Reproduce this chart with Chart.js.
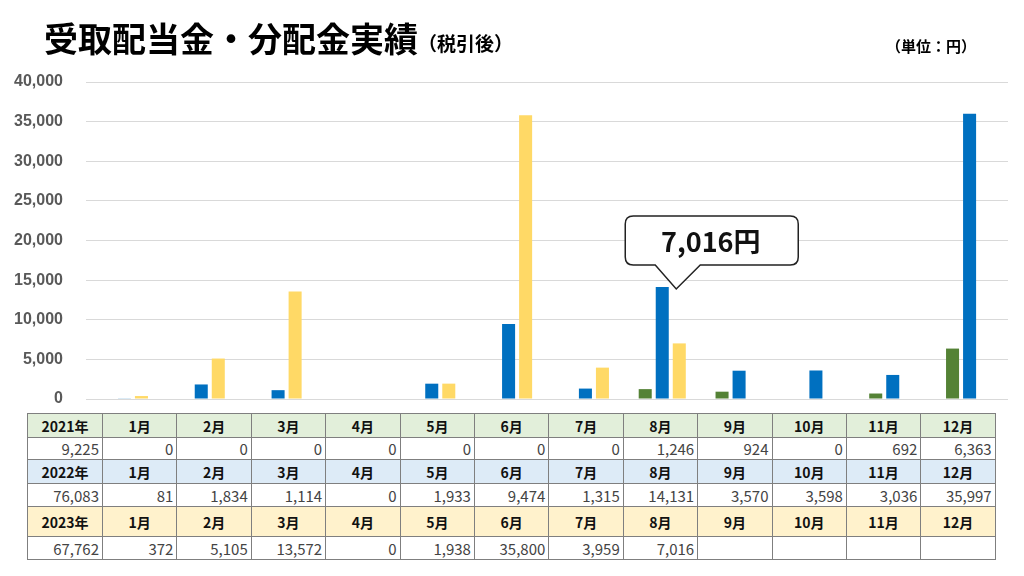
<!DOCTYPE html>
<html lang="ja">
<head>
<meta charset="utf-8">
<title>受取配当金・分配金実績</title>
<script src="https://cdn.jsdelivr.net/npm/chart.js@4.4.0/dist/chart.umd.min.js"></script>
<style>
    html, body { margin: 0; padding: 0; background: #fff; }
    #page { position: relative; width: 1024px; height: 576px; overflow: hidden; font-family: "Noto Sans CJK JP", sans-serif; }
    #chartBox { position: absolute; left: 0; top: 0; width: 1024px; height: 410px; }
    #title { position: absolute; left: 44px; top: 13px; font-size: 34px; font-weight: bold; color: #000; white-space: nowrap; }
    #title small { font-size: 19px; font-weight: bold; position: relative; top: -1px; }
    #unit { position: absolute; left: 886px; top: 35px; font-size: 15px; font-weight: bold; color: #000; white-space: nowrap; }
    #dataTable { position: absolute; left: 27px; top: 413px; border-collapse: collapse; table-layout: fixed; width: 968px; }
    #dataTable td { border: 1px solid #7f7f7f; padding: 0 3px; font-size: 15px; line-height: 1; overflow: hidden; white-space: nowrap; }
    #dataTable td.head { font-weight: bold; text-align: center; color: #111; font-size: 14px; }
    #dataTable td.num { text-align: right; color: #444; }
    tr.y2021 td { background: #e2efda; }
    tr.y2022 td { background: #ddebf7; }
    tr.y2023 td { background: #fff2cc; }
</style>
</head>
<body>
<div id="page">
    <div id="chartBox"><canvas id="dividendChart" width="1024" height="410"></canvas></div>
    <div id="title">受取配当金・分配金実績<small>（税引後）</small></div>
    <div id="unit">（単位：円）</div>
    <table id="dataTable">
        <colgroup id="cols"></colgroup>
        <tbody id="tableBody"></tbody>
    </table>
</div>
<script>
// Monthly dividends (after tax), yen
const months = ['1月', '2月', '3月', '4月', '5月', '6月', '7月', '8月', '9月', '10月', '11月', '12月'];
const years = ['2021年', '2022年', '2023年'];
const values2021 = [0, 0, 0, 0, 0, 0, 0, 1246, 924, 0, 692, 6363];
const values2022 = [81, 1834, 1114, 0, 1933, 9474, 1315, 14131, 3570, 3598, 3036, 35997];
const values2023 = [372, 5105, 13572, 0, 1938, 35800, 3959, 7016, null, null, null, null];
const yTicks = [0, 5000, 10000, 15000, 20000, 25000, 30000, 35000, 40000];
const calloutText = '7,016円';

const seriesColors = ['#548235', '#0070c0', '#ffd966'];
const allValues = [values2021, values2022, values2023];

// Callout bubble pointing at the Aug 2022 bar
const calloutPlugin = {
    id: 'callout',
    afterDatasetsDraw(chart) {
        const bar = chart.getDatasetMeta(1).data[7];
        if (!bar) return;
        const ctx = chart.ctx;
        const tipX = bar.x + 14;
        const tipY = bar.y + 2;
        const left = tipX - 51, right = tipX + 122;
        const top = tipY - 73, bottom = tipY - 24;
        const r = 8;
        ctx.save();
        ctx.beginPath();
        ctx.moveTo(left + r, top);
        ctx.lineTo(right - r, top);
        ctx.quadraticCurveTo(right, top, right, top + r);
        ctx.lineTo(right, bottom - r);
        ctx.quadraticCurveTo(right, bottom, right - r, bottom);
        ctx.lineTo(tipX + 24, bottom);
        ctx.lineTo(tipX, tipY);
        ctx.lineTo(tipX - 21, bottom);
        ctx.lineTo(left + r, bottom);
        ctx.quadraticCurveTo(left, bottom, left, bottom - r);
        ctx.lineTo(left, top + r);
        ctx.quadraticCurveTo(left, top, left + r, top);
        ctx.closePath();
        ctx.fillStyle = '#fff';
        ctx.fill();
        ctx.lineWidth = 1.5;
        ctx.strokeStyle = '#222';
        ctx.stroke();
        ctx.fillStyle = '#111';
        ctx.font = 'bold 27px "Noto Sans CJK JP", sans-serif';
        ctx.textAlign = 'center';
        ctx.textBaseline = 'middle';
        ctx.fillText(calloutText, (left + right) / 2 - 1, (top + bottom) / 2 + 1);
        ctx.restore();
    }
};

new Chart(document.getElementById('dividendChart'), {
    type: 'bar',
    data: {
        labels: months,
        datasets: years.map((y, i) => ({
            label: y,
            data: allValues[i],
            backgroundColor: seriesColors[i],
            borderWidth: 0,
            categoryPercentage: 0.665,
            barPercentage: 0.765
        }))
    },
    options: {
        responsive: false,
        animation: false,
        devicePixelRatio: 1,
        layout: { padding: { top: 82, right: 16, bottom: 11, left: 0 } },
        plugins: {
            legend: { display: false },
            tooltip: { enabled: false }
        },
        scales: {
            x: { display: false },
            y: {
                min: 0,
                max: 40000,
                afterFit: scale => {
                    scale.width = 86;
                    // tick padding would otherwise push the plot bottom up
                    scale.paddingTop = 0;
                    scale.paddingBottom = 0;
                },
                afterBuildTicks: scale => { scale.ticks = yTicks.map(v => ({ value: v })); },
                border: { display: false },
                grid: { color: '#d9d9d9', lineWidth: 1, drawTicks: false },
                ticks: {
                    padding: 23,
                    color: '#595959',
                    font: { family: '"Liberation Sans", Arial, sans-serif', size: 16, weight: 'bold' },
                    callback: v => v.toLocaleString('en-US')
                }
            }
        }
    },
    plugins: [calloutPlugin]
});

// Data table under the chart
const cols = document.getElementById('cols');
const firstCol = document.createElement('col');
firstCol.style.width = '75px';
cols.appendChild(firstCol);
months.forEach(() => {
    const c = document.createElement('col');
    c.style.width = '74.4px';
    cols.appendChild(c);
});

const rowHeights = [[24, 22], [24, 23], [30, 23]];
const fmt = v => (v === null ? '' : v.toLocaleString('en-US'));
const body = document.getElementById('tableBody');
years.forEach((y, i) => {
    const head = document.createElement('tr');
    head.className = 'y' + y.slice(0, 4);
    head.style.height = rowHeights[i][0] + 'px';
    head.innerHTML = `<td class="head">${y}</td>` + months.map(m => `<td class="head">${m}</td>`).join('');
    body.appendChild(head);

    const vals = allValues[i];
    const total = vals.reduce((a, b) => a + (b || 0), 0);
    const row = document.createElement('tr');
    row.style.height = rowHeights[i][1] + 'px';
    row.innerHTML = `<td class="num">${fmt(total)}</td>` + vals.map(v => `<td class="num">${fmt(v)}</td>`).join('');
    body.appendChild(row);
});
</script>
</body>
</html>
